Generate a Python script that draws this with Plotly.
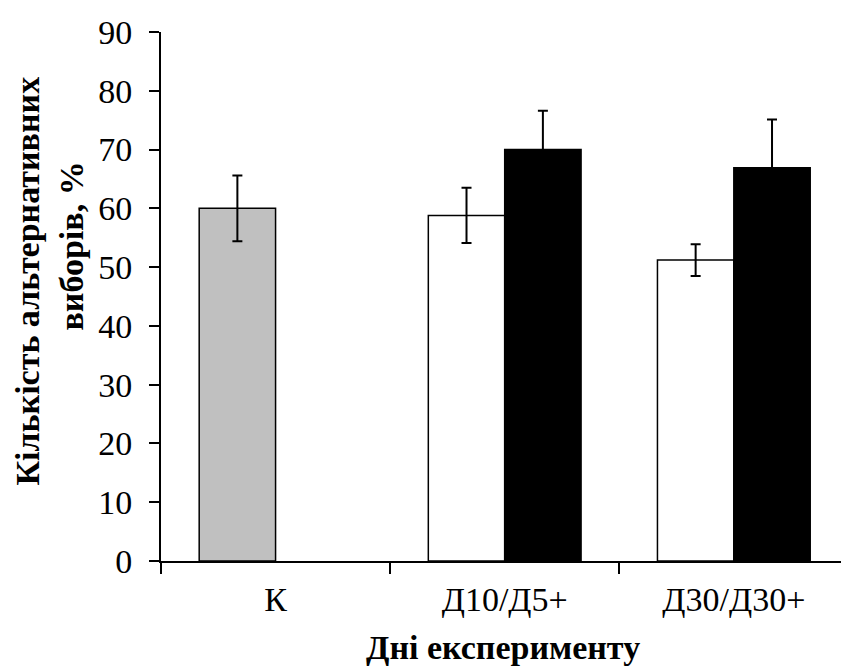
import plotly.graph_objects as go

categories = ["К", "Д10/Д5+", "Д30/Д30+"]
series1_values = [60.0, 58.8, 51.2]
series1_errors = [5.6, 4.7, 2.7]
series1_colors = ["#C0C0C0", "#FFFFFF", "#FFFFFF"]
series2_values = [None, 70.0, 66.9]
series2_errors = [0, 6.6, 8.2]
y_ticks = [0, 10, 20, 30, 40, 50, 60, 70, 80, 90]

FONT = "Liberation Serif"
TICK_SIZE = 34
TITLE_SIZE = 34
W, H = 841, 668
L, R, T, B = 160.5, 0, 32, 107

err_style = dict(type="data", visible=True, color="black", thickness=2, width=5)

fig = go.Figure()
fig.add_trace(go.Bar(
    x=categories, y=series1_values,
    marker=dict(color=series1_colors, line=dict(color="black", width=1.5)),
    error_y=dict(array=series1_errors, **err_style),
    showlegend=False,
))
fig.add_trace(go.Bar(
    x=categories, y=series2_values,
    marker=dict(color="black", line=dict(color="black", width=1.5)),
    error_y=dict(array=series2_errors, **err_style),
    showlegend=False,
))

plot_w = W - L - R
cat_px = 229.3
x_right = -0.5 + plot_w / cat_px

fig.update_layout(
    width=W, height=H,
    margin=dict(l=L, r=R, t=T, b=B, pad=0),
    paper_bgcolor="white", plot_bgcolor="white",
    barmode="group", bargap=1/3, bargroupgap=0,
    font=dict(family=FONT, color="black", size=TICK_SIZE),
    xaxis=dict(
        type="category", range=[-0.5, x_right],
        showline=True, linecolor="black", linewidth=2,
        ticks="outside", ticklen=11, tickwidth=2, tickcolor="black",
        tickson="boundaries", showgrid=False,
        tickfont=dict(family=FONT, size=TICK_SIZE, color="black"),
        ticklabelstandoff=7,
    ),
    yaxis=dict(
        range=[0, 90], tickvals=y_ticks,
        showline=True, linecolor="black", linewidth=2,
        ticks="outside", ticklen=10, tickwidth=2, tickcolor="black",
        showgrid=False, zeroline=False,
        tickfont=dict(family=FONT, size=TICK_SIZE, color="black"),
        ticklabelstandoff=10,
    ),
)

plot_h = H - T - B
def px_x(x):
    return (x - L) / plot_w
def px_y(y):
    return (H - B - y) / plot_h

fig.add_annotation(
    text="<b>Кількість альтернативних</b>", textangle=-90,
    x=px_x(26), y=px_y(281), xref="paper", yref="paper",
    xanchor="center", yanchor="middle", showarrow=False,
    font=dict(family=FONT, size=TITLE_SIZE, color="black"),
)
fig.add_annotation(
    text="<b>виборів, %</b>", textangle=-90,
    x=px_x(70), y=px_y(246), xref="paper", yref="paper",
    xanchor="center", yanchor="middle", showarrow=False,
    font=dict(family=FONT, size=TITLE_SIZE, color="black"),
)
fig.add_annotation(
    text="<b>Дні експерименту</b>",
    x=px_x(503), y=px_y(647), xref="paper", yref="paper",
    xanchor="center", yanchor="middle", showarrow=False,
    font=dict(family=FONT, size=TITLE_SIZE, color="black"),
)

fig.write_html("out.html", config={"displayModeBar": False},
               post_script="document.body.style.margin='0px';")
